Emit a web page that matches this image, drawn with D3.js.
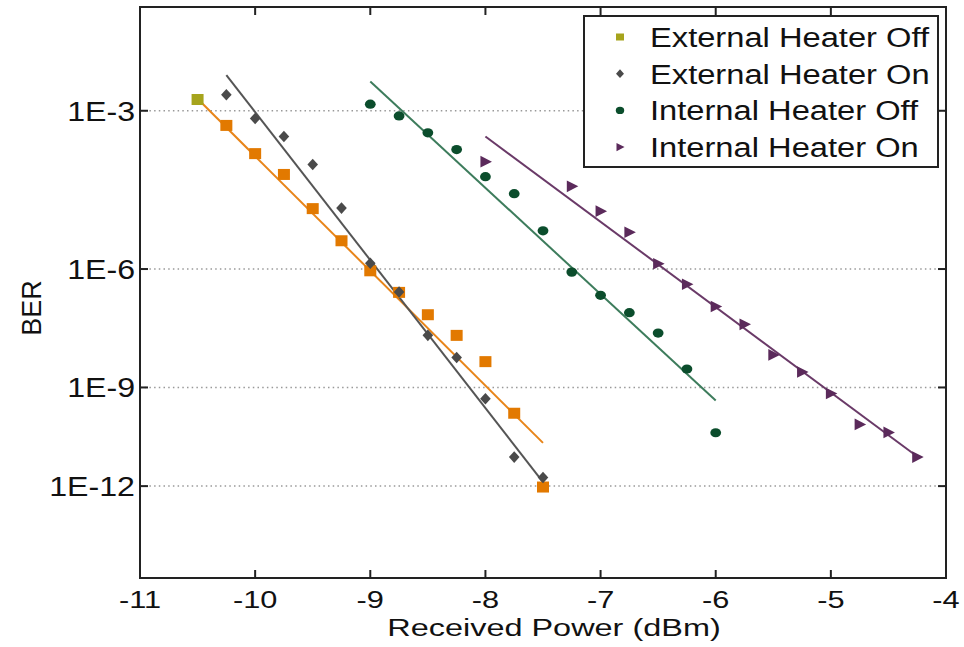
<!DOCTYPE html>
<html>
<head>
<meta charset="utf-8">
<script src="https://cdn.jsdelivr.net/npm/d3@7"></script>
<style>
  body { margin: 0; background: #fff; }
  text { font-family: "Liberation Sans", Arial, sans-serif; fill: #111; }
</style>
</head>
<body>
<div id="chart"></div>
<script>
// received power (dBm) and log10(BER)
const extOffOlivePower = [-10.5];
const extOffOliveBer = [-2.83];
const extOffPower = [-10.25, -10, -9.75, -9.5, -9.25, -9, -8.75, -8.5, -8.25, -8, -7.75, -7.5];
const extOffBer = [-3.23, -3.70, -4.07, -4.72, -5.38, -6.04, -6.54, -7.08, -7.60, -8.29, -9.74, -12.03];
const extOnPower = [-10.25, -10, -9.75, -9.5, -9.25, -9, -8.75, -8.5, -8.25, -8, -7.75, -7.5];
const extOnBer = [-2.76, -3.12, -3.41, -3.89, -4.71, -5.87, -6.53, -7.60, -8.18, -9.32, -11.07, -11.72];
const intOffPower = [-9, -8.75, -8.5, -8.25, -8, -7.75, -7.5, -7.25, -7, -6.75, -6.5, -6.25, -6];
const intOffBer = [-2.90, -3.08, -3.35, -3.63, -4.11, -4.43, -5.17, -6.07, -6.61, -7.03, -7.54, -8.49, -10.32];
const intOnPower = [-8, -7.25, -7, -6.75, -6.5, -6.25, -6, -5.75, -5.5, -5.25, -5, -4.75, -4.5, -4.25];
const intOnBer = [-3.84, -4.29, -4.77, -5.20, -5.88, -6.35, -6.88, -7.32, -8.11, -8.57, -9.17, -10.07, -10.31, -11.07];

// fitted lines (end points)
const extOffFitPower = [-10.5, -7.5];
const extOffFitBer = [-2.82, -10.63];
const extOnFitPower = [-10.25, -7.5];
const extOnFitBer = [-2.48, -11.87];
const intOffFitPower = [-9, -6];
const intOffFitBer = [-2.57, -9.37];
const intOnFitPower = [-8, -4.25];
const intOnFitBer = [-3.41, -11.05];

const xTicks = [-11, -10, -9, -8, -7, -6, -5, -4];
const yTicks = [-3, -6, -9, -12];
const yTickLabels = ["1E-3", "1E-6", "1E-9", "1E-12"];
const legendNames = ["External Heater Off", "External Heater On", "Internal Heater Off", "Internal Heater On"];

const margin = { top: 7, right: 18, bottom: 69, left: 140 },
  width = 964 - margin.left - margin.right,
  height = 647 - margin.top - margin.bottom;

const svg = d3
  .select("#chart")
  .append("svg")
  .attr("width", 964)
  .attr("height", 647);

const g = svg.append("g").attr("transform", `translate(${margin.left}, ${margin.top})`);

// BER axis is linear in the Q factor: BER = 0.5*erfc(Q/sqrt(2))
function qOf(logBer) {
  const p = Math.pow(10, logBer);
  const c = [-7.784894002430293e-3, -3.223964580411365e-1, -2.400758277161838, -2.549732539343734, 4.374664141464968, 2.938163982698783];
  const d = [7.784695709041462e-3, 3.224671290700398e-1, 2.445134137142996, 3.754408661907416];
  const q = Math.sqrt(-2 * Math.log(p));
  const x = (((((c[0] * q + c[1]) * q + c[2]) * q + c[3]) * q + c[4]) * q + c[5]) /
    ((((d[0] * q + d[1]) * q + d[2]) * q + d[3]) * q + 1);
  return -x;
}

const x = d3.scaleLinear().domain([-11, -4]).range([0, width]);
const y = d3.scaleLinear().domain([2, 8]).range([0, height]);
const yb = (v) => y(qOf(v));

// stretch text horizontally like the source picture
function stretch(sel, k) {
  sel.each(function () {
    const w = this.getComputedTextLength();
    d3.select(this).attr("textLength", w * k).attr("lengthAdjust", "spacingAndGlyphs");
  });
}

// grid
g.append("g")
  .selectAll("line")
  .data(yTicks)
  .enter()
  .append("line")
  .attr("x1", 0)
  .attr("x2", width)
  .attr("y1", (d) => yb(d))
  .attr("y2", (d) => yb(d))
  .style("stroke", "#999")
  .style("stroke-width", 1.5)
  .style("stroke-dasharray", "1.5,3.2");

// ticks (inside, on all four sides)
const tk = 8;
const ticks = g.append("g").style("stroke", "#222").style("stroke-width", 2);
xTicks.slice(1, -1).forEach(function (t) {
  ticks.append("line").attr("x1", x(t)).attr("x2", x(t)).attr("y1", height).attr("y2", height - tk);
  ticks.append("line").attr("x1", x(t)).attr("x2", x(t)).attr("y1", 0).attr("y2", tk);
});
yTicks.forEach(function (t) {
  ticks.append("line").attr("x1", 0).attr("x2", tk).attr("y1", yb(t)).attr("y2", yb(t));
  ticks.append("line").attr("x1", width).attr("x2", width - tk).attr("y1", yb(t)).attr("y2", yb(t));
});

// fit lines
const line = d3.line().x((d) => x(d[0])).y((d) => yb(d[1]));
const fits = [
  [extOffFitPower, extOffFitBer, "#e8851a"],
  [extOnFitPower, extOnFitBer, "#555555"],
  [intOffFitPower, intOffFitBer, "#3d7c5c"],
  [intOnFitPower, intOnFitBer, "#6a3a68"],
];
fits.forEach(function (f) {
  g.append("path")
    .attr("d", line(d3.zip(f[0], f[1])))
    .style("fill", "none")
    .style("stroke", f[2])
    .style("stroke-width", 2);
});

// markers
const diamond = "M0,-5.8L5.3,0L0,5.8L-5.3,0Z";
const triangle = "M-5,-5.8L6.5,0L-5,5.8Z";

function squares(px, pb, color) {
  g.append("g")
    .selectAll("rect")
    .data(d3.zip(px, pb))
    .enter()
    .append("rect")
    .attr("x", (d) => x(d[0]) - 6)
    .attr("y", (d) => yb(d[1]) - 5.5)
    .attr("width", 12)
    .attr("height", 11)
    .attr("fill", color);
}
function paths(px, pb, shape, color) {
  g.append("g")
    .selectAll("path")
    .data(d3.zip(px, pb))
    .enter()
    .append("path")
    .attr("d", shape)
    .attr("transform", (d) => `translate(${x(d[0])},${yb(d[1])})`)
    .attr("fill", color);
}

squares(extOffPower, extOffBer, "#e27900");
squares(extOffOlivePower, extOffOliveBer, "#a6a41c");
paths(extOnPower, extOnBer, diamond, "#4a4a4a");
g.append("g")
  .selectAll("ellipse")
  .data(d3.zip(intOffPower, intOffBer))
  .enter()
  .append("ellipse")
  .attr("cx", (d) => x(d[0]))
  .attr("cy", (d) => yb(d[1]))
  .attr("rx", 5.4)
  .attr("ry", 4.6)
  .attr("fill", "#0b4d2c");
paths(intOnPower, intOnBer, triangle, "#5b2a5b");

// frame
g.append("rect")
  .attr("width", width)
  .attr("height", height)
  .style("fill", "none")
  .style("stroke", "#222")
  .style("stroke-width", 2);

// axis labels
const xl = g.append("g")
  .selectAll("text")
  .data(xTicks)
  .enter()
  .append("text")
  .attr("x", (d) => x(d))
  .attr("y", height + 30)
  .attr("text-anchor", "middle")
  .style("font-size", "24px")
  .text((d) => d);
stretch(xl, 1.28);

const yl = g.append("g")
  .selectAll("text")
  .data(yTicks)
  .enter()
  .append("text")
  .attr("x", -5)
  .attr("y", (d) => yb(d) + 10)
  .attr("text-anchor", "end")
  .style("font-size", "27px")
  .text((d, i) => yTickLabels[i]);
stretch(yl, 1.19);

const xt = svg.append("text")
  .attr("x", 554)
  .attr("y", 636)
  .attr("text-anchor", "middle")
  .style("font-size", "23px")
  .text("Received Power (dBm)");
stretch(xt, 1.41);

svg.append("text")
  .attr("transform", "translate(41, 308) rotate(-90)")
  .attr("text-anchor", "middle")
  .style("font-size", "27px")
  .text("BER");

// legend
const lg = svg.append("g");
lg.append("rect")
  .attr("x", 584)
  .attr("y", 16)
  .attr("width", 354)
  .attr("height", 151)
  .style("fill", "#fff")
  .style("stroke", "#222")
  .style("stroke-width", 2);

const rowY = (i) => 37 + i * 36.7;
lg.append("rect").attr("x", 616).attr("y", rowY(0) - 3.5).attr("width", 8).attr("height", 7).attr("fill", "#a6a41c");
lg.append("path").attr("d", diamond).attr("transform", `translate(620,${rowY(1)}) scale(0.75)`).attr("fill", "#4a4a4a");
lg.append("ellipse").attr("cx", 620).attr("cy", rowY(2)).attr("rx", 4.2).attr("ry", 3.6).attr("fill", "#0b4d2c");
lg.append("path").attr("d", triangle).attr("transform", `translate(620,${rowY(3)}) scale(0.7)`).attr("fill", "#5b2a5b");

const lt = lg.selectAll("text.leg")
  .data(legendNames)
  .enter()
  .append("text")
  .attr("class", "leg")
  .attr("x", 650)
  .attr("y", (d, i) => rowY(i) + 10)
  .style("font-size", "27px")
  .text((d) => d);
stretch(lt, 1.21);
</script>
</body>
</html>
